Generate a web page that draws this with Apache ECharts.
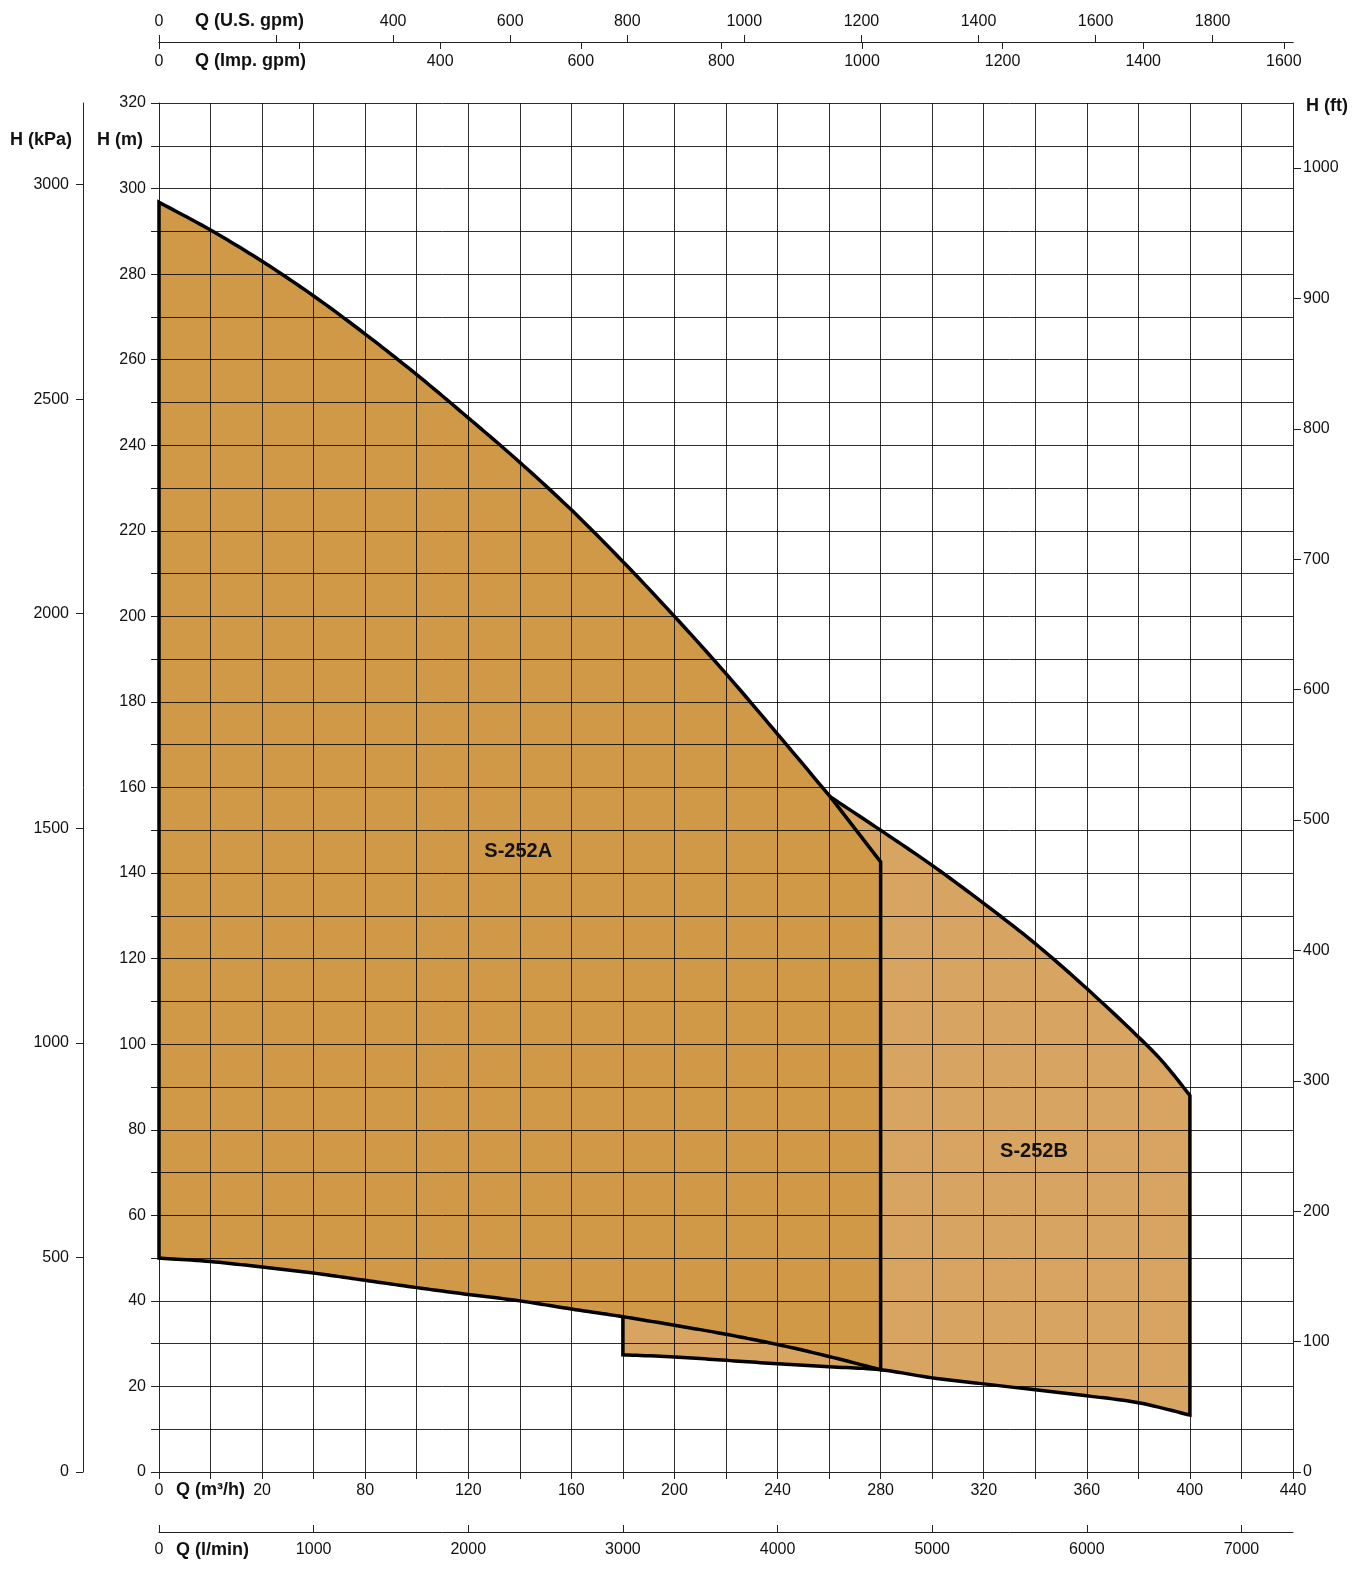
<!DOCTYPE html>
<html><head><meta charset="utf-8">
<script src="https://cdn.jsdelivr.net/npm/echarts@6/dist/echarts.min.js"></script>
<style>html,body{margin:0;padding:0;background:#fff}#c{width:1366px;height:1573px}</style>
</head><body><div id="c"></div>
<script>
// ---------- data (Q in m3/h, H in m) ----------
const aUpperQ = [0, 20, 40, 60, 80, 100, 120, 140, 160, 180, 200, 220, 240, 260.5];
const aUpperH = [296.8, 290.3, 283.0, 274.9, 266.0, 256.5, 246.4, 236.0, 224.9, 212.8, 200.0, 186.6, 172.5, 157.8];
const aEndQ = [280];
const aEndH = [142.6];
const aLowerQ = [0, 20, 40, 60, 80, 100, 120, 140, 160, 180, 200, 220, 240, 260, 280];
const aLowerH = [50.0, 49.2, 47.9, 46.5, 44.8, 43.1, 41.5, 40.0, 38.1, 36.3, 34.3, 32.2, 29.8, 27.0, 23.9];
const bUpperQ = [260.5, 280, 300, 320, 340, 360, 380, 390, 400];
const bUpperH = [157.8, 150.0, 141.8, 132.9, 123.5, 113.0, 101.7, 95.5, 88.0];
const bLowerQ = [180, 200, 220, 240, 260, 280, 300, 320, 340, 360, 380, 400];
const bLowerH = [27.4, 26.9, 26.1, 25.3, 24.6, 23.9, 22.0, 20.6, 19.2, 17.8, 16.2, 13.3];
const regionNames = ['S-252A', 'S-252B'];
const regionQ = [139.4, 339.5];
const regionH = [145.1, 75.0];

// ---------- tick labels ----------
const qLabelValues = [0, 40, 80, 120, 160, 200, 240, 280, 320, 360, 400, 440];
const qLabelTexts  = ['0', '20', '80', '120', '160', '200', '240', '280', '320', '360', '400', '440'];
const hLabelValues = [0, 20, 40, 60, 80, 100, 120, 140, 160, 180, 200, 220, 240, 260, 280, 300, 320];
const kpaValues = [0, 500, 1000, 1500, 2000, 2500, 3000];
const ftValues = [0, 100, 200, 300, 400, 500, 600, 700, 800, 900, 1000];
const usTickValues = [0, 200, 400, 600, 800, 1000, 1200, 1400, 1600, 1800];
const usLabelValues = [0, 400, 600, 800, 1000, 1200, 1400, 1600, 1800];
const impTickValues = [0, 200, 400, 600, 800, 1000, 1200, 1400, 1600];
const impLabelValues = [0, 400, 600, 800, 1000, 1200, 1400, 1600];
const lminValues = [0, 1000, 2000, 3000, 4000, 5000, 6000, 7000];

// ---------- axis ranges ----------
const Q_MAX = 440, H_MAX = 320;
const US_MAX = Q_MAX * 4.402868;
const IMP_MAX = Q_MAX * 3.666154;
const LMIN_MAX = Q_MAX * 1000 / 60;
const FT_MAX = H_MAX * 3.28084;
const KPA_MAX = 3190;

const FONT = "'Liberation Sans', Arial, sans-serif";
const TXT = '#111';
const AX = '#222';
const FILL_A = '#CF9948';
const FILL_B = '#D8A462';

const rev = a => a.slice().reverse();
const subIdx = aLowerQ.map((q, i) => i).filter(i => aLowerQ[i] >= bLowerQ[0]);
const stepIdx = aLowerQ.indexOf(bLowerQ[0]);

// Catmull-Rom smoothing of a pixel polyline (rendering only)
function smooth(p) {
  if (p.length < 3) return p.slice();
  const out = [p[0]];
  const N = 12;
  for (let i = 0; i < p.length - 1; i++) {
    const p0 = p[Math.max(i - 1, 0)], p1 = p[i], p2 = p[i + 1], p3 = p[Math.min(i + 2, p.length - 1)];
    const c1 = [p1[0] + (p2[0] - p0[0]) / 6, p1[1] + (p2[1] - p0[1]) / 6];
    const c2 = [p2[0] - (p3[0] - p1[0]) / 6, p2[1] - (p3[1] - p1[1]) / 6];
    for (let k = 1; k <= N; k++) {
      const t = k / N, u = 1 - t;
      out.push([
        u*u*u*p1[0] + 3*u*u*t*c1[0] + 3*u*t*t*c2[0] + t*t*t*p2[0],
        u*u*u*p1[1] + 3*u*u*t*c1[1] + 3*u*t*t*c2[1] + t*t*t*p2[1]
      ]);
    }
  }
  return out;
}
// pieces: [qs, hs, isCurve]
function build(api, pieces) {
  let pts = [];
  pieces.forEach(pc => {
    const px = pc[0].map((q, i) => api.coord([q, pc[1][i]]));
    pts = pts.concat(pc[2] ? smooth(px) : px);
  });
  return pts;
}
const piecesA = [
  [aUpperQ, aUpperH, true],
  [aEndQ, aEndH, false],
  [rev(aLowerQ), rev(aLowerH), true]
];
const piecesBfill = [
  [bLowerQ, bLowerH, true],
  [rev(bUpperQ), rev(bUpperH), true],
  [aEndQ, aEndH, false],
  [rev(subIdx.map(i => aLowerQ[i])), rev(subIdx.map(i => aLowerH[i])), true]
];
const piecesBline = [
  [[aLowerQ[stepIdx]], [aLowerH[stepIdx]], false],
  [bLowerQ, bLowerH, true],
  [rev(bUpperQ), rev(bUpperH), true]
];

function shapeRender(pieces, type, style) {
  return function (params, api) {
    return { type: type, shape: { points: build(api, pieces) }, style: style, silent: true };
  };
}

function xAx(o) {
  return Object.assign({
    type: 'value', min: 0, z: 3,
    axisLine: { show: true, onZero: false, lineStyle: { color: AX, width: 1 } },
    splitLine: { show: false }
  }, o);
}
const yAx = xAx;
const lbl = (o) => Object.assign({ color: TXT, fontSize: 16, fontFamily: FONT, formatter: v => String(v) }, o);
const tick = (o) => Object.assign({ show: true, length: 7, lineStyle: { color: AX, width: 1 } }, o);
const grid = { color: 'rgba(0,0,0,0.82)', width: 1 };

const titles = [
  ['H (kPa)', 10, 140],
  ['H (m)', 97, 140],
  ['H (ft)', 1306, 106],
  ['Q (U.S. gpm)', 195, 21],
  ['Q (Imp. gpm)', 195, 61],
  ['Q (m³/h)', 176, 1490],
  ['Q (l/min)', 176, 1550]
];

const chart = echarts.init(document.getElementById('c'), null, { renderer: 'canvas' });
chart.setOption({
  animation: false,
  backgroundColor: '#fff',
  grid: { left: 159, right: 73, top: 103, bottom: 101, containLabel: false, outerBoundsMode: 'none' },
  xAxis: [
    xAx({ position: 'bottom', max: Q_MAX, interval: 20,
      axisTick: tick({ length: 7 }),
      axisLabel: lbl({ margin: 11, customValues: qLabelValues,
        formatter: v => { const k = qLabelValues.indexOf(v); return k >= 0 ? qLabelTexts[k] : ''; } }),
      splitLine: { show: true, lineStyle: grid } }),
    xAx({ position: 'top', offset: 61, max: US_MAX,
      axisTick: tick({ customValues: usTickValues }),
      axisLabel: lbl({ margin: 12, customValues: usLabelValues }) }),
    xAx({ position: 'top', offset: 61, max: IMP_MAX,
      axisTick: tick({ inside: true, customValues: impTickValues }),
      axisLabel: lbl({ inside: true, margin: 12, customValues: impLabelValues }) }),
    xAx({ position: 'bottom', offset: 60, max: LMIN_MAX,
      axisTick: tick({ inside: true, customValues: lminValues }),
      axisLabel: lbl({ margin: 10, customValues: lminValues }) })
  ],
  yAxis: [
    yAx({ position: 'left', max: H_MAX, interval: 10,
      axisTick: tick({ length: 8 }),
      axisLabel: lbl({ margin: 13, customValues: hLabelValues }),
      splitLine: { show: true, lineStyle: grid } }),
    yAx({ position: 'left', offset: 76, max: KPA_MAX,
      axisTick: tick({ customValues: kpaValues }),
      axisLabel: lbl({ margin: 14, customValues: kpaValues }) }),
    yAx({ position: 'right', max: FT_MAX,
      axisTick: tick({ length: 8, customValues: ftValues }),
      axisLabel: lbl({ margin: 10, customValues: ftValues }) })
  ],
  graphic: titles.map(t => ({
    type: 'text', x: t[1], y: t[2], z: 100,
    style: { text: t[0], fill: TXT, font: 'bold 18px ' + FONT, align: 'left', verticalAlign: 'middle' }
  })),
  series: [
    { type: 'custom', name: 'S-252A fill', coordinateSystem: 'cartesian2d', z: 1, silent: true,
      data: [[0, 0]], renderItem: shapeRender(piecesA, 'polygon', { fill: FILL_A }) },
    { type: 'custom', name: 'S-252B fill', coordinateSystem: 'cartesian2d', z: 1, silent: true,
      data: [[0, 0]], renderItem: shapeRender(piecesBfill, 'polygon', { fill: FILL_B }) },
    { type: 'custom', name: 'S-252A outline', coordinateSystem: 'cartesian2d', z: 5, silent: true,
      data: [[0, 0]], renderItem: shapeRender(piecesA, 'polygon',
        { fill: 'none', stroke: '#000', lineWidth: 3.5, lineJoin: 'miter' }) },
    { type: 'custom', name: 'S-252B outline', coordinateSystem: 'cartesian2d', z: 5, silent: true,
      data: [[0, 0]], renderItem: shapeRender(piecesBline, 'polyline',
        { fill: 'none', stroke: '#000', lineWidth: 3.5, lineJoin: 'miter' }) },
    { type: 'custom', name: 'labels', coordinateSystem: 'cartesian2d', z: 6, silent: true,
      data: regionNames.map((n, i) => [regionQ[i], regionH[i]]),
      renderItem: function (params, api) {
        const p = api.coord([api.value(0), api.value(1)]);
        return { type: 'text', x: p[0], y: p[1],
          style: { text: regionNames[params.dataIndex], fill: TXT, font: 'bold 20px ' + FONT,
            align: 'center', verticalAlign: 'middle' } };
      } }
  ]
});
</script>
</body></html>
